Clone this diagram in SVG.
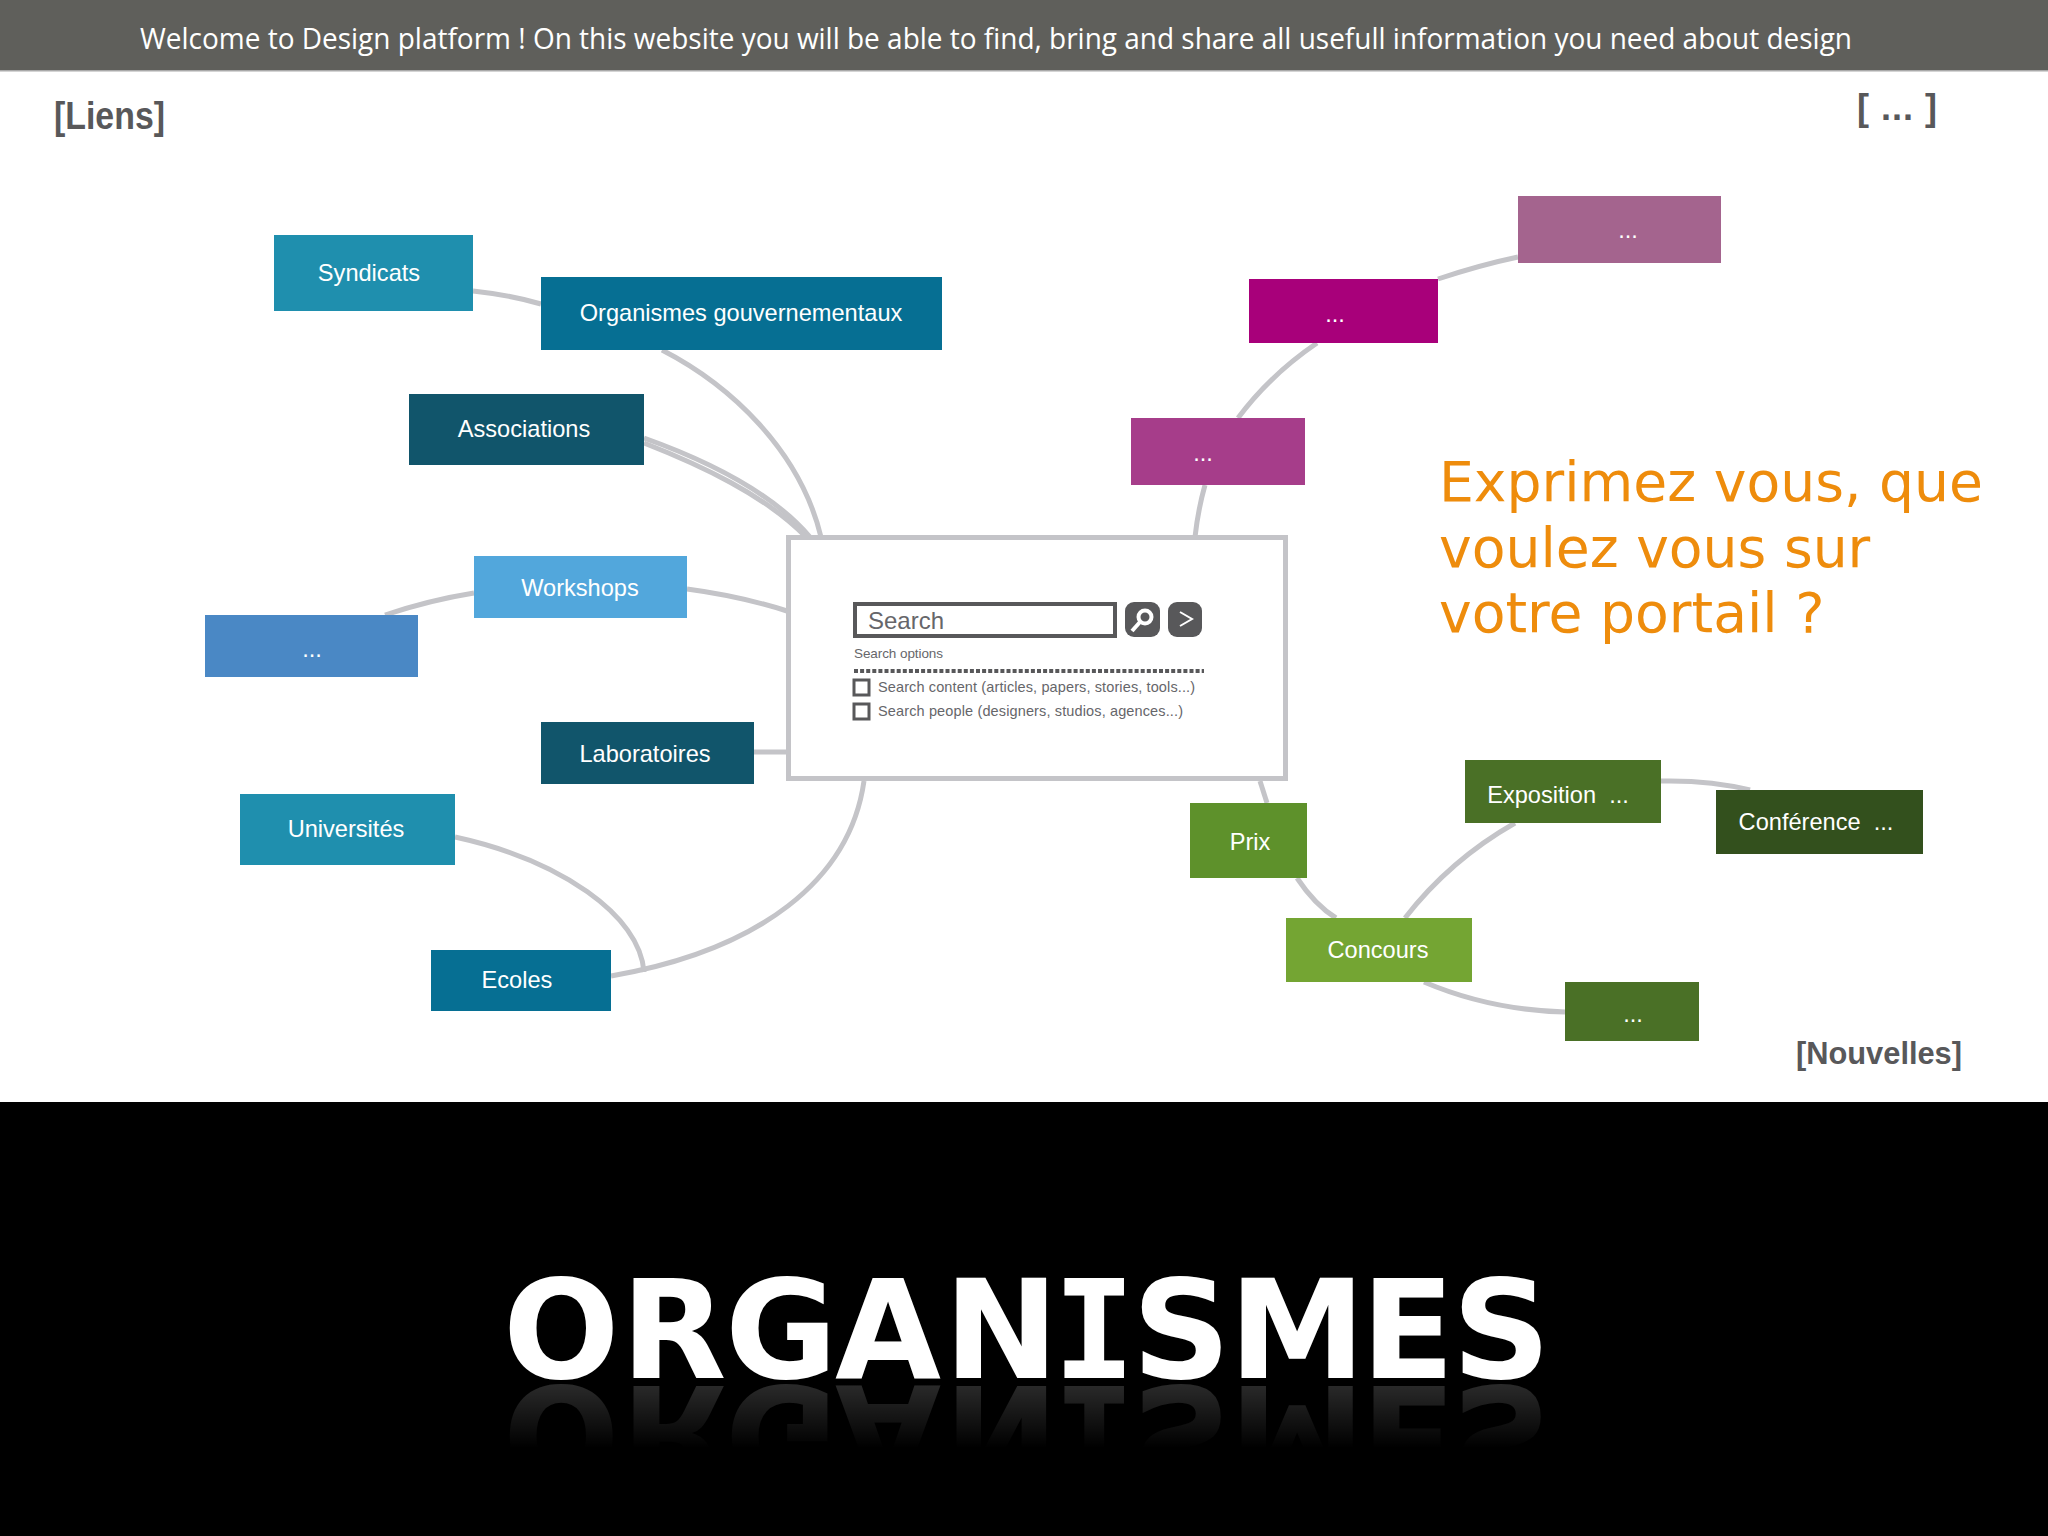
<svg xmlns="http://www.w3.org/2000/svg" width="2048" height="1536" viewBox="0 0 2048 1536">
<style>
.c{fill:none;stroke:#c4c4c8;stroke-width:5;stroke-linecap:butt}
.l{font-family:"Liberation Sans",Arial,sans-serif;font-size:23.6px;fill:#fff;text-anchor:middle}
.h{font-family:"Liberation Sans",Arial,sans-serif;font-weight:bold;fill:#58585a}
.g{font-family:"Liberation Sans",Arial,sans-serif;fill:#66666a}
.o{font-family:"DejaVu Sans",Verdana,sans-serif;font-size:55.2px;fill:#ee8c0c}
.t{font-family:"DejaVu Sans",Verdana,sans-serif;font-weight:bold;font-size:137px;fill:#fff}
</style>
<defs>
<linearGradient id="fade" x1="0" y1="1383" x2="0" y2="1448" gradientUnits="userSpaceOnUse">
<stop offset="0" stop-color="#fff" stop-opacity=".17"/><stop offset="1" stop-color="#fff" stop-opacity="0"/>
</linearGradient>
<mask id="m" maskUnits="userSpaceOnUse" x="0" y="1383" width="2048" height="80"><rect x="0" y="1383" width="2048" height="80" fill="url(#fade)"/></mask>
</defs>
<rect width="2048" height="1536" fill="#fff"/>
<g id="header"><rect width="2048" height="70" fill="#5f5f5b"/><rect y="70" width="2048" height="1.5" fill="#aaa"/>
<text x="140" y="49" font-family="'Open Sans',sans-serif" font-size="30" fill="#fff" textLength="1712" lengthAdjust="spacingAndGlyphs">Welcome to Design platform ! On this website you will be able to find, bring and share all usefull information you need about design</text></g>
<text class="h" x="54" y="129" font-size="38" textLength="111" lengthAdjust="spacingAndGlyphs">[Liens]</text>
<text class="h" x="1857" y="120" font-size="36" textLength="80">[ ... ]</text>
<text class="h" x="1796" y="1064" font-size="32" textLength="166" lengthAdjust="spacingAndGlyphs">[Nouvelles]</text>

<g id="connectors">
<path class="c" d="M473,291Q510,295 541,304"/>
<path class="c" d="M662,350C730,385 800,450 821,537"/>
<path class="c" d="M644,438C700,458 770,490 810,537"/>
<path class="c" d="M644,443C700,465 765,495 806,537"/>
<path class="c" d="M687,589Q740,596 787,611"/>
<path class="c" d="M385,615Q430,600 474,593"/>
<path class="c" d="M754,752H787"/>
<path class="c" d="M864,781C850,880 760,950 611,976"/>
<path class="c" d="M455,837C560,860 640,915 644,972"/>
<path class="c" d="M1195,537Q1198,510 1205,485"/>
<path class="c" d="M1238,418Q1270,375 1317,343"/>
<path class="c" d="M1438,279Q1480,265 1518,257"/>
<path class="c" d="M1260,781L1267,803"/>
<path class="c" d="M1297,878Q1315,905 1336,918"/>
<path class="c" d="M1405,918Q1450,860 1515,823"/>
<path class="c" d="M1661,781Q1710,780 1750,790"/>
<path class="c" d="M1424,982Q1490,1010 1565,1012"/>
</g>

<g id="syndicats"><rect x="274" y="235" width="199" height="76" fill="#1f8fae"/><text class="l" x="369" y="281">Syndicats</text></g>
<g id="organismes"><rect x="541" y="277" width="401" height="73" fill="#066f93"/><text class="l" x="741" y="321">Organismes gouvernementaux</text></g>
<g id="associations"><rect x="409" y="394" width="235" height="71" fill="#11556b"/><text class="l" x="524" y="437">Associations</text></g>
<g id="workshops"><rect x="474" y="556" width="213" height="62" fill="#52a7dc"/><text class="l" x="580" y="596">Workshops</text></g>
<g id="blue"><rect x="205" y="615" width="213" height="62" fill="#4a88c5"/><text class="l" x="312" y="657">...</text></g>
<g id="laboratoires"><rect x="541" y="722" width="213" height="62" fill="#11556b"/><text class="l" x="645" y="762">Laboratoires</text></g>
<g id="universites"><rect x="240" y="794" width="215" height="71" fill="#1f8fae"/><text class="l" x="346" y="837">Universités</text></g>
<g id="ecoles"><rect x="431" y="950" width="180" height="61" fill="#066f93"/><text class="l" x="517" y="988">Ecoles</text></g>
<g id="purple-top"><rect x="1518" y="196" width="203" height="67" fill="#a4648e"/><text class="l" x="1628" y="238">...</text></g>
<g id="magenta"><rect x="1249" y="279" width="189" height="64" fill="#a8007a"/><text class="l" x="1335" y="322">...</text></g>
<g id="purple"><rect x="1131" y="418" width="174" height="67" fill="#a63d8a"/><text class="l" x="1203" y="461">...</text></g>

<g id="search">
<rect x="788.500" y="537.500" width="497" height="241" fill="#fff" stroke="#c4c4c8" stroke-width="5"/>
<rect x="855" y="604" width="260" height="32" fill="#fff" stroke="#58585a" stroke-width="4"/>
<text class="g" x="868" y="629" font-size="24">Search</text>
<rect x="1125" y="602" width="35" height="35" rx="9" fill="#58585a"/>
<circle cx="1145" cy="617" r="6.500" fill="none" stroke="#fff" stroke-width="4"/>
<path d="M1140,622L1132,631" stroke="#fff" stroke-width="4" fill="none"/>
<rect x="1168" y="602" width="34" height="35" rx="9" fill="#58585a"/>
<path d="M1180,612L1192,619L1180,626" stroke="#fff" stroke-width="2" fill="none"/>
<text class="g" x="854" y="658" font-size="13.500" textLength="89">Search options</text>
<path d="M854,671H1204" stroke="#58585a" stroke-width="4" stroke-dasharray="4 2.100" fill="none"/>
<rect x="854" y="680" width="15" height="15" fill="#fff" stroke="#58585a" stroke-width="3"/>
<text class="g" x="878" y="692" font-size="14.500" textLength="317">Search content (articles, papers, stories, tools...)</text>
<rect x="854" y="704" width="15" height="15" fill="#fff" stroke="#58585a" stroke-width="3"/>
<text class="g" x="878" y="716" font-size="14.500" textLength="305">Search people (designers, studios, agences...)</text>
</g>

<g id="prix"><rect x="1190" y="803" width="117" height="75" fill="#5e912b"/><text class="l" x="1250" y="850">Prix</text></g>
<g id="concours"><rect x="1286" y="918" width="186" height="64" fill="#74a533"/><text class="l" x="1378" y="958">Concours</text></g>
<g id="exposition"><rect x="1465" y="760" width="196" height="63" fill="#4a7026"/><text class="l" x="1558" y="803" xml:space="preserve">Exposition  ...</text></g>
<g id="conference"><rect x="1716" y="790" width="207" height="64" fill="#33501d"/><text class="l" x="1816" y="830" xml:space="preserve">Conférence  ...</text></g>
<g id="green"><rect x="1565" y="982" width="134" height="59" fill="#4a7026"/><text class="l" x="1633" y="1022">...</text></g>

<g id="question">
<text class="o" x="1439" y="501">Exprimez vous, que</text>
<text class="o" x="1439" y="567">voulez vous sur</text>
<text class="o" x="1439" y="632">votre portail ?</text>
</g>

<rect y="1102" width="2048" height="434" fill="#000"/>
<g id="title">
<text id="tt" class="t" y="1378"><tspan x="503">O</tspan><tspan x="621">R</tspan><tspan x="725">G</tspan><tspan x="835">A</tspan><tspan x="944">N</tspan><tspan x="1053" font-family="'DejaVu Sans Mono',monospace">I</tspan><tspan x="1132">S</tspan><tspan x="1229">M</tspan><tspan x="1361">E</tspan><tspan x="1452">S</tspan></text>
<g mask="url(#m)"><use href="#tt" transform="translate(0,2764) scale(1,-1)"/></g>
</g>
</svg>
